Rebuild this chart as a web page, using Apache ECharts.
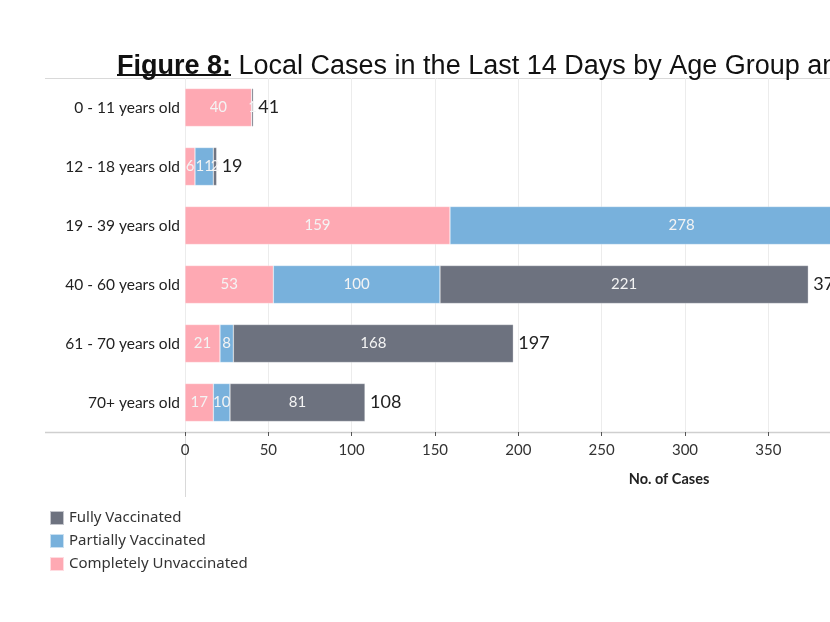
<!DOCTYPE html>
<html>
<head>
<meta charset="utf-8">
<script src="https://cdn.jsdelivr.net/npm/echarts@6/dist/echarts.min.js"></script>
<style>html,body{margin:0;padding:0;background:#fff;}#c{width:830px;height:622px;}</style>
</head>
<body>
<div id="c"></div>
<script>
const categories = ['0 - 11 years old','12 - 18 years old','19 - 39 years old','40 - 60 years old','61 - 70 years old','70+ years old'];
const unvaccinated = [40, 6, 159, 53, 21, 17];
const partially = [0, 11, 278, 100, 8, 10];
const fully = [1, 2, 50, 221, 168, 81];
const totals = [41, 19, 487, 374, 197, 108];
const xTicks = [0, 50, 100, 150, 200, 250, 300, 350, 400, 450];

const chart = echarts.init(document.getElementById('c'));
const inLabel = {
  show: true, position: 'inside', color: '#f4f4f4', fontSize: 15,
  fontFamily: 'Lato, "Noto Sans", sans-serif',
  formatter: p => p.value ? String(p.value) : ''
};
const segStyle = c => ({ color: c, borderColor: 'rgba(255,255,255,0.6)', borderWidth: 0.5 });
const BW = 38;
chart.setOption({
  animation: false,
  title: {
    left: 112, top: 48,
    text: '{b|Figure 8:} Local Cases in the Last 14 Days by Age Group and Vaccination Status',
    textStyle: { fontFamily: '"Liberation Sans", Arial, sans-serif', fontSize: 27, fontWeight: 'normal', color: '#111',
      rich: { b: { fontFamily: '"Liberation Sans", Arial, sans-serif', fontSize: 27, fontWeight: 'bold', color: '#111' } } }
  },
  legend: {
    left: 44, top: 505, orient: 'vertical', itemWidth: 14, itemHeight: 14, itemGap: 7,
    icon: 'rect', selectedMode: false,
    data: ['Fully Vaccinated', 'Partially Vaccinated', 'Completely Unvaccinated'],
    textStyle: { fontSize: 15, lineHeight: 15, color: '#333', fontFamily: '"Noto Sans", sans-serif', padding: [0, 0, 0, 0] }
  },
  grid: { left: 185, top: 78, height: 354, width: 750, outerBoundsMode: 'none', containLabel: false },
  xAxis: {
    type: 'value', min: 0, max: 450, interval: 50,
    axisLine: { show: false },
    axisTick: { show: true, length: 4, lineStyle: { color: '#555' } },
    axisLabel: { margin: 11, fontSize: 15, color: '#333', fontFamily: 'Lato, "Noto Sans", sans-serif',
      formatter: v => xTicks.includes(v) ? String(v) : '' },
    splitLine: { show: true, lineStyle: { color: '#ececec' } }
  },
  yAxis: {
    type: 'category', data: categories, inverse: true,
    axisLine: { show: false }, axisTick: { show: false },
    axisLabel: { margin: 5, fontSize: 15.5, color: '#222', fontFamily: 'Lato, "Noto Sans", sans-serif' }
  },
  series: [
    { name: 'Completely Unvaccinated', type: 'bar', stack: 's', barWidth: BW, data: unvaccinated,
      itemStyle: segStyle('#fea9b3'), label: inLabel, silent: true },
    { name: 'Partially Vaccinated', type: 'bar', stack: 's', barWidth: BW, data: partially,
      itemStyle: segStyle('#78b1dc'), label: inLabel, silent: true },
    { name: 'Fully Vaccinated', type: 'bar', stack: 's', barWidth: BW, data: fully,
      itemStyle: segStyle('#6d727f'), label: inLabel, silent: true },
    { name: 'Total', type: 'bar', barWidth: BW, barGap: '-100%', data: totals, z: 1,
      itemStyle: { color: 'rgba(0,0,0,0)' }, silent: true,
      label: { show: true, position: 'right', distance: 5, fontSize: 18, color: '#222',
        fontFamily: 'Lato, "Noto Sans", sans-serif' } }
  ],
  graphic: [
    { type: 'line', shape: { x1: 117, y1: 75, x2: 231, y2: 75 }, style: { stroke: '#111', lineWidth: 2 }, silent: true },
    { type: 'line', shape: { x1: 45, y1: 78.5, x2: 830, y2: 78.5 }, style: { stroke: '#d9d9d9', lineWidth: 1 }, silent: true },
    { type: 'line', shape: { x1: 45, y1: 432.5, x2: 830, y2: 432.5 }, style: { stroke: '#cfcfcf', lineWidth: 1.5 }, silent: true },
    { type: 'line', shape: { x1: 185.5, y1: 78, x2: 185.5, y2: 497 }, style: { stroke: '#d9d9d9', lineWidth: 1 }, silent: true },
    { type: 'text', x: 669, y: 479, style: { text: 'No. of Cases', fontSize: 14.5, fontWeight: 'bold', fill: '#222',
      textAlign: 'center', textVerticalAlign: 'middle',
      fontFamily: 'Lato, "Noto Sans", sans-serif' }, silent: true }
  ]
});
</script>
</body>
</html>
